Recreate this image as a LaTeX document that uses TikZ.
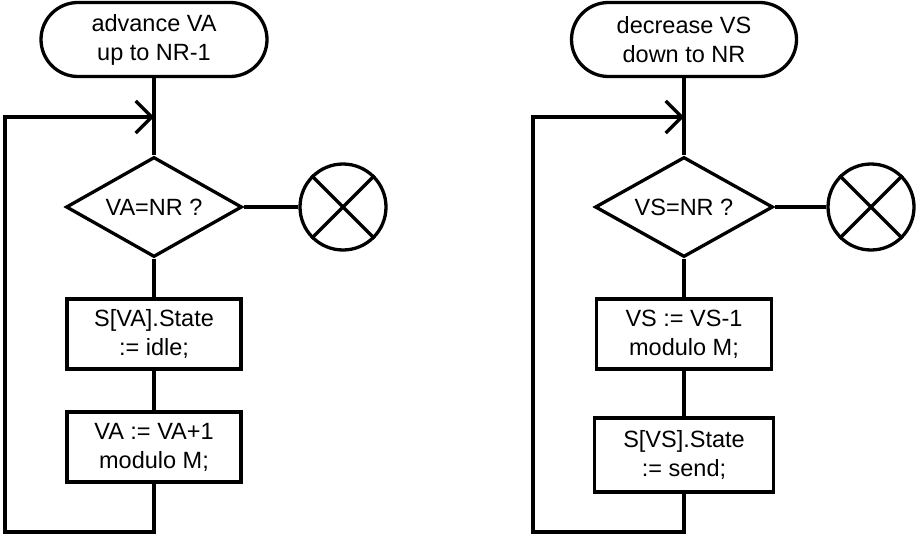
\documentclass[tikz,border=0pt]{standalone}
\usepackage{fontspec}
\setmainfont{Liberation Sans}
\usetikzlibrary{shapes.geometric,arrows.meta}
\begin{document}
\begin{tikzpicture}[x=1pt,y=-1pt, line width=3.3pt,
  every node/.style={font=\fontsize{23.5}{29}\selectfont, align=center, inner sep=0pt},
  term/.style={draw, rounded corners=37pt, minimum width=226pt, minimum height=74pt},
  dec/.style={draw, diamond, aspect=1.76, minimum width=176pt, minimum height=100pt},
  proc/.style={draw, minimum width=174pt, minimum height=70pt},
  stopc/.style={draw, circle, minimum size=86pt},
  loopin/.style={-{Straight Barb[length=16pt,width=32pt]}}]
\useasboundingbox (0,0) rectangle (917,535);
% ---------- left chart ----------
\node[term] (t1) at (154,39.5) {advance VA\\up to NR-1};
\node[dec] (d1) at (154,207) {VA=NR ?};
\node[stopc] (c1) at (343,207) {};
\node[proc] (p1) at (154,334) {S[VA].State\\:= idle;};
\node[proc] (q1) at (154,447) {VA := VA+1\\modulo M;};
\coordinate (j1) at (154,117);
\coordinate (b1) at (154,532);
\coordinate (l1) at (5,532);
\coordinate (u1) at (5,117);
\draw (t1.south) -- (d1.north);
\draw (d1.east) -- (c1.west);
\draw (c1.45) -- (c1.225) (c1.135) -- (c1.315);
\draw (d1.south) -- (p1.north);
\draw (p1.south) -- (q1.north);
\draw[loopin] (q1.south) -- (b1) -- (l1) -- (u1) -- (j1);
% ---------- right chart ----------
\node[term, minimum width=225pt] (t2) at (684,39.5) {decrease VS\\down to NR};
\node[dec, minimum width=178pt] (d2) at (684,207) {VS=NR ?};
\node[stopc] (c2) at (871,207) {};
\node[proc, minimum width=175pt] (p2) at (684,334) {VS := VS-1\\modulo M;};
\node[proc, minimum width=179pt, minimum height=74pt] (q2) at (684,455) {S[VS].State\\:= send;};
\coordinate (j2) at (684,117);
\coordinate (b2) at (684,532);
\coordinate (l2) at (533,532);
\coordinate (u2) at (533,117);
\draw (t2.south) -- (d2.north);
\draw (d2.east) -- (c2.west);
\draw (c2.45) -- (c2.225) (c2.135) -- (c2.315);
\draw (d2.south) -- (p2.north);
\draw (p2.south) -- (q2.north);
\draw[loopin] (q2.south) -- (b2) -- (l2) -- (u2) -- (j2);
\end{tikzpicture}
\end{document}
